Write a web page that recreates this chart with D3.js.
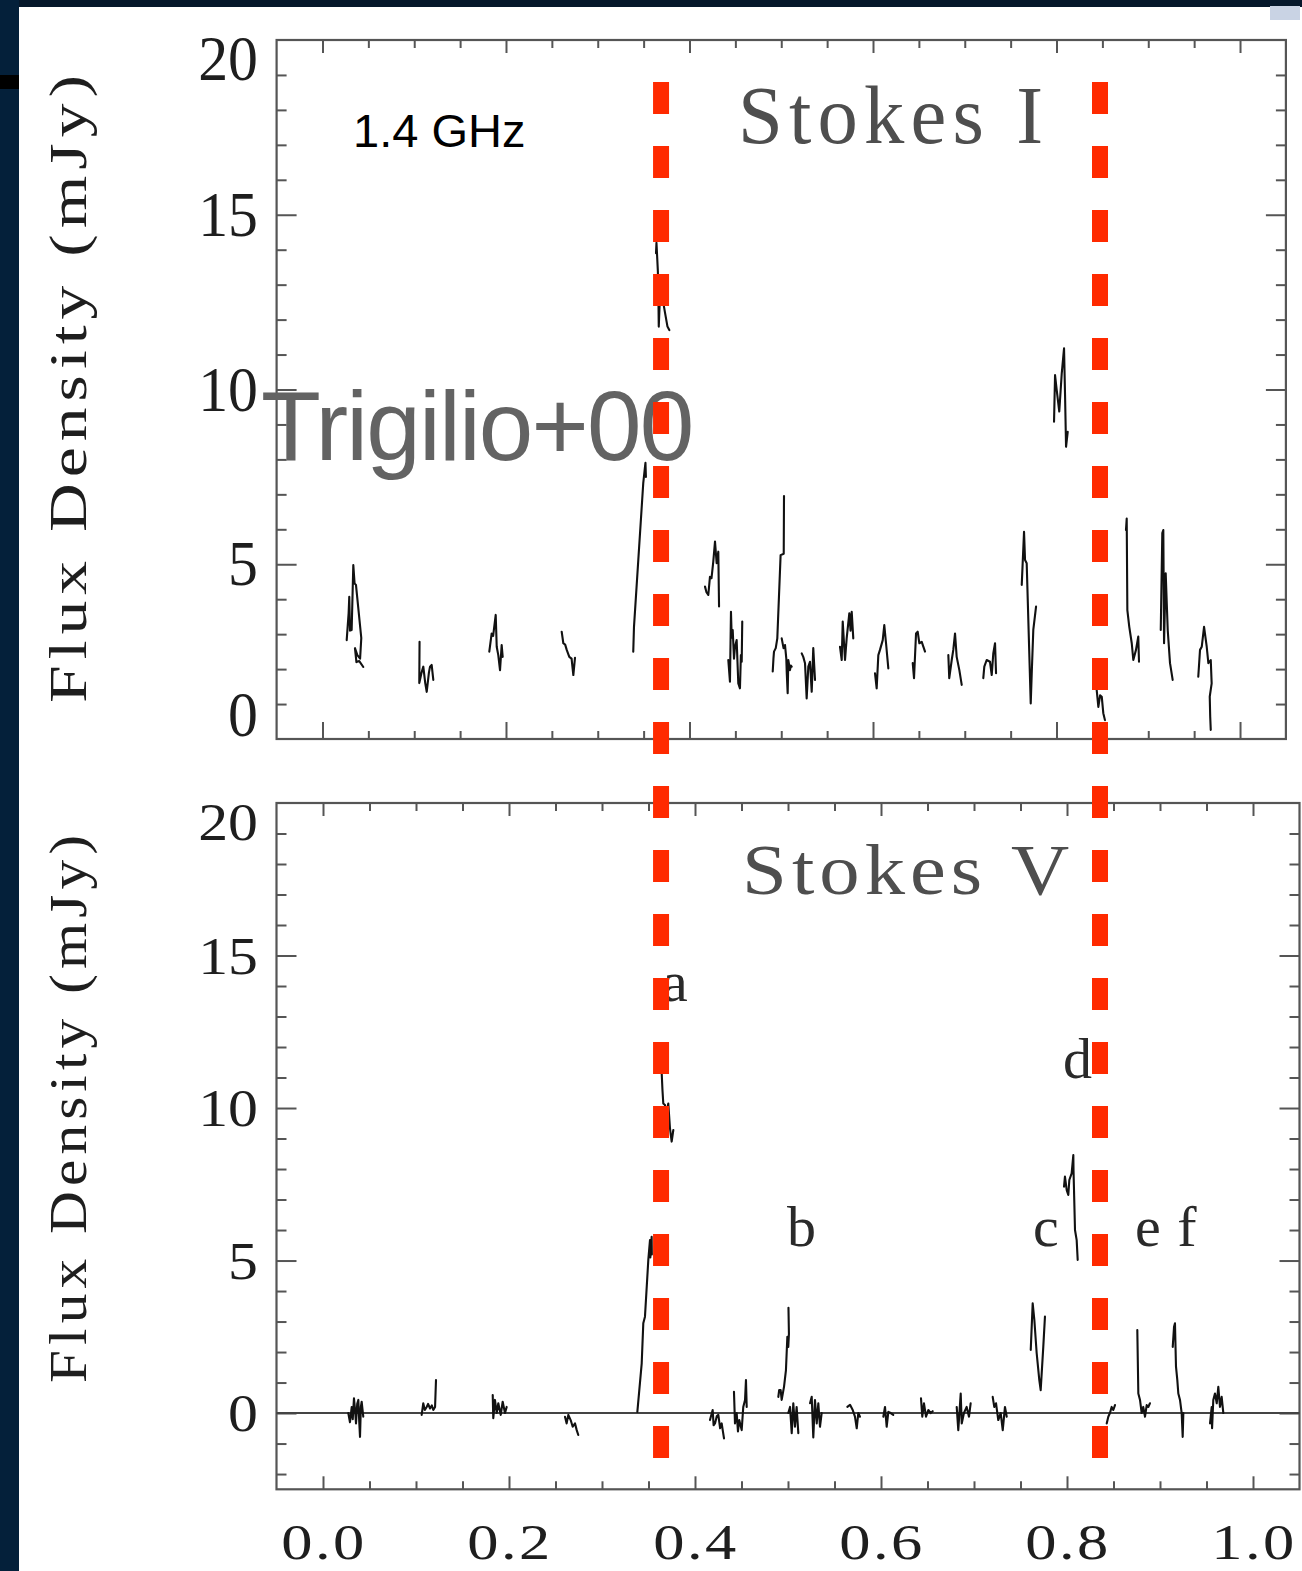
<!DOCTYPE html>
<html>
<head>
<meta charset="utf-8">
<script src="https://cdn.jsdelivr.net/npm/d3@7"></script>
<style>
  html, body { margin: 0; padding: 0; background: #fff; overflow: hidden; }
  svg { display: block; }
</style>
</head>
<body>
<svg id="chart" width="1302" height="1571"></svg>
<script>
// ---------------- DATA ----------------
// Rotational phase (x) and flux density in mJy (y); each inner array is one observing chunk.
const stokesI = [
  [[0.0264,2.83],[0.0285,3.6],[0.0292,4.07],[0.0300,3.1],[0.0318,3.12],[0.0336,4.98],[0.0350,4.45],[0.0365,4.41],[0.0423,2.89],[0.0410,2.3],[0.0380,2.4],[0.0354,2.6],[0.0370,2.2],[0.0401,2.23],[0.0445,2.06]],
  [[0.1058,2.78],[0.1055,1.6],[0.1080,1.9],[0.1099,2.07],[0.1120,1.6],[0.1136,1.35],[0.1160,1.9],[0.1172,2.07],[0.1190,2.12],[0.1208,1.69]],
  [[0.1818,2.5],[0.1844,3.02],[0.1860,2.95],[0.1888,3.55],[0.1899,2.64],[0.1916,2.4],[0.1935,1.97],[0.1953,2.69],[0.1964,2.35]],
  [[0.2607,3.07],[0.2625,2.74],[0.2645,2.7],[0.2662,2.55],[0.2690,2.35],[0.2715,2.3],[0.2727,2.0],[0.2734,1.83],[0.2752,2.32]],
  [[0.3387,2.5],[0.3395,3.21],[0.3442,5.12],[0.3496,7.32],[0.3515,7.79],[0.3520,7.9],[0.3525,7.5]],
  [[0.3635,13.9],[0.3640,14.2],[0.3655,13.4],[0.3660,12.9],[0.3665,11.8],[0.3680,12.8],[0.3700,13.2],[0.3720,12.4],[0.3733,12.2],[0.3760,11.8],[0.3780,11.7]],
  [[0.4169,4.36],[0.4185,4.2],[0.4205,4.12],[0.4223,4.64],[0.4240,4.6],[0.4259,5.07],[0.4278,5.65],[0.4296,5.03],[0.4314,5.36],[0.4322,3.79]],
  [[0.4423,2.26],[0.4441,1.64],[0.4452,3.64],[0.4460,2.9],[0.4471,3.12],[0.4485,2.3],[0.4496,2.64],[0.4514,2.83],[0.4532,1.59],[0.4550,1.45],[0.4560,2.4],[0.4569,2.21],[0.4575,3.36]],
  [[0.4907,1.93],[0.4915,2.3],[0.4921,2.5],[0.4940,2.6],[0.4957,2.88],[0.4993,5.26],[0.5027,5.3],[0.5030,6.95]],
  [[0.5005,2.88],[0.5025,2.6],[0.5041,2.69],[0.5055,2.3],[0.5060,1.9],[0.5070,1.31],[0.5077,2.26],[0.5095,1.97],[0.5105,2.1],[0.5114,2.07]],
  [[0.5223,2.45],[0.5240,2.35],[0.5259,2.17],[0.5277,1.16],[0.5295,2.07],[0.5313,2.21],[0.5332,1.35],[0.5349,2.6],[0.5368,1.69]],
  [[0.5640,2.64],[0.5659,2.26],[0.5670,3.36],[0.5695,2.26],[0.5713,2.88],[0.5742,3.6],[0.5755,3.1],[0.5768,3.64],[0.5785,2.88]],
  [[0.6022,1.88],[0.6040,1.45],[0.6058,2.4],[0.6076,2.55],[0.6106,2.83],[0.6123,3.26],[0.6142,2.74],[0.6167,2.02]],
  [[0.6433,2.17],[0.6447,1.74],[0.6469,3.02],[0.6487,3.07],[0.6505,2.74],[0.6531,2.78],[0.6567,2.5]],
  [[0.6821,2.4],[0.6831,1.74],[0.6858,2.26],[0.6875,2.55],[0.6894,3.02],[0.6912,2.35],[0.6941,1.97],[0.6967,1.55]],
  [[0.7202,1.74],[0.7213,2.07],[0.7239,2.26],[0.7275,2.21],[0.7294,1.83],[0.7311,2.45],[0.7330,2.74],[0.7341,1.88]],
  [[0.7621,4.41],[0.7646,5.93],[0.7657,5.12],[0.7675,5.03],[0.7719,1.02],[0.7730,1.88],[0.7747,3.12],[0.7777,3.79]],
  [[0.7973,9.08],[0.7984,10.41],[0.8002,9.99],[0.8030,9.37],[0.8057,10.46],[0.8082,11.18],[0.8093,9.84],[0.8104,8.36],[0.8122,8.79]],
  [[0.8425,2.0],[0.8438,1.4],[0.8456,0.92],[0.8475,1.25],[0.8493,1.21],[0.8510,0.74],[0.8528,0.54]],
  [[0.8757,5.98],[0.8765,6.31],[0.8772,3.69],[0.8793,3.21],[0.8820,2.74],[0.8837,2.26],[0.8866,2.55],[0.8891,2.93],[0.8899,2.21]],
  [[0.9136,3.12],[0.9153,5.89],[0.9164,5.98],[0.9172,2.74],[0.9190,4.74],[0.9212,3.12],[0.9237,2.17],[0.9266,1.69]],
  [[0.9545,1.78],[0.9564,2.55],[0.9583,2.64],[0.9608,3.21],[0.9637,2.64],[0.9655,2.17],[0.9681,2.26],[0.9691,1.59],[0.9670,1.21],[0.9675,0.64],[0.9681,0.26]]
];

const stokesV = [
  [[0.0272,0.0],[0.0290,-0.3],[0.0309,0.2],[0.0320,-0.2],[0.0333,0.48],[0.0345,0.1],[0.0355,-0.34],[0.0368,0.3],[0.0380,0.43],[0.0390,-0.3],[0.0398,-0.78],[0.0407,0.2],[0.0416,0.37],[0.0433,-0.12]],
  [[0.1061,-0.06],[0.1078,0.32],[0.1095,0.1],[0.1115,0.2],[0.1130,0.3],[0.1151,0.15],[0.1170,0.25],[0.1186,0.1],[0.1205,0.2],[0.1215,1.08]],
  [[0.1825,0.59],[0.1831,-0.17],[0.1849,0.43],[0.1868,0.0],[0.1885,0.32],[0.1911,-0.06],[0.1932,0.37],[0.1957,0.0],[0.1975,0.2]],
  [[0.2602,-0.12],[0.2620,-0.34],[0.2638,-0.06],[0.2663,-0.23],[0.2685,-0.45],[0.2710,-0.34],[0.2728,-0.56],[0.2745,-0.72]],
  [[0.3380,0.04],[0.3427,1.63],[0.3444,2.94],[0.3462,3.16],[0.3498,5.02],[0.3516,5.67],[0.3520,5.1],[0.3534,5.78],[0.3536,5.2]],
  [[0.3630,11.5],[0.3642,11.14],[0.3650,10.6],[0.3659,10.15],[0.3677,10.1],[0.3690,9.8],[0.3713,10.15],[0.3731,9.33],[0.3749,8.9],[0.3767,9.28]],
  [[0.4161,-0.23],[0.4190,0.1],[0.4200,-0.4],[0.4215,-0.34],[0.4235,-0.1],[0.4251,-0.06],[0.4270,-0.5],[0.4287,-0.34],[0.4300,-0.6],[0.4312,-0.83]],
  [[0.4419,0.7],[0.4430,-0.34],[0.4448,0.0],[0.4462,-0.6],[0.4476,-0.23],[0.4502,-0.56],[0.4519,0.2],[0.4538,0.43],[0.4548,1.08],[0.4556,0.2]],
  [[0.4896,0.53],[0.4905,0.75],[0.4921,0.75],[0.4932,0.43],[0.4957,0.86],[0.4978,1.41],[0.4993,2.5],[0.5003,2.17],[0.5010,2.6],[0.5005,3.45]],
  [[0.5003,0.0],[0.5022,0.2],[0.5040,-0.66],[0.5057,0.32],[0.5075,-0.45],[0.5093,0.2],[0.5111,-0.66]],
  [[0.5237,0.32],[0.5255,0.53],[0.5272,-0.8],[0.5290,0.43],[0.5309,-0.34],[0.5326,0.32],[0.5344,-0.45],[0.5362,0.0]],
  [[0.5638,0.2],[0.5667,0.27],[0.5696,0.1],[0.5720,-0.12],[0.5739,-0.5],[0.5756,0.0],[0.5774,-0.12]],
  [[0.6025,-0.12],[0.6043,0.2],[0.6061,-0.45],[0.6079,0.04],[0.6104,0.0],[0.6132,-0.06]],
  [[0.6430,0.48],[0.6444,-0.12],[0.6462,0.32],[0.6484,-0.12],[0.6509,0.1],[0.6534,0.0],[0.6556,0.06]],
  [[0.6814,0.2],[0.6831,-0.56],[0.6857,0.64],[0.6868,-0.34],[0.6892,0.0],[0.6921,0.2],[0.6946,-0.12],[0.6964,0.32]],
  [[0.7201,0.53],[0.7218,0.2],[0.7237,0.32],[0.7261,-0.23],[0.7287,0.0],[0.7309,-0.56],[0.7333,0.2],[0.7352,-0.12]],
  [[0.7610,2.07],[0.7631,3.6],[0.7649,3.05],[0.7674,1.96],[0.7702,1.09],[0.7717,0.75],[0.7745,2.17],[0.7763,3.16]],
  [[0.7968,7.42],[0.7978,7.75],[0.7997,7.31],[0.8014,7.15],[0.8025,7.64],[0.8050,7.86],[0.8068,8.46],[0.8070,7.97],[0.8086,6.0],[0.8104,5.67],[0.8115,5.02]],
  [[0.8427,-0.34],[0.8444,-0.12],[0.8462,0.0],[0.8480,0.2],[0.8498,0.1],[0.8516,0.26]],
  [[0.8756,2.72],[0.8767,0.64],[0.8785,0.43],[0.8803,0.0],[0.8820,0.2],[0.8839,-0.12],[0.8857,0.26],[0.8874,0.2],[0.8892,0.32]],
  [[0.9137,2.17],[0.9151,2.83],[0.9161,2.94],[0.9172,1.52],[0.9186,1.09],[0.9197,0.64],[0.9215,0.43],[0.9233,0.0],[0.9244,-0.78],[0.9251,0.0]],
  [[0.9538,-0.34],[0.9556,0.2],[0.9560,-0.5],[0.9573,0.43],[0.9591,0.64],[0.9610,0.32],[0.9627,0.86],[0.9645,0.2],[0.9663,0.53],[0.9681,0.0]]
];

const xTickLabels = ["0.0", "0.2", "0.4", "0.6", "0.8", "1.0"];
const xTickValues = [0, 0.2, 0.4, 0.6, 0.8, 1.0];
const yTickValues = [0, 5, 10, 15, 20];
const yTickLabels = ["0", "5", "10", "15", "20"];
const phaseDomain = [-0.05, 1.05];
const fluxDomainI = [0, 20];
const fluxDomainV = [-2.5, 20];
const markerPhases = [0.369, 0.8474];          // red dashed lines
const markerSpan = { topFluxI: 18.8, bottomFluxV: -1.48 };
const panelTitles = ["Stokes I", "Stokes V"];
const yAxisTitle = "Flux Density (mJy)";
const annotationsV = [
  { text: "a", phase: 0.3645, flux: 13.5 },
  { text: "b", phase: 0.4989, flux: 5.48 },
  { text: "c", phase: 0.7634, flux: 5.48 },
  { text: "d", phase: 0.7957, flux: 11.0 },
  { text: "e f", phase: 0.8731, flux: 5.48 }
];
const freqLabel = "1.4 GHz";
const refLabel = "Trigilio+00";

// ---------------- DRAW ----------------
const svg = d3.select("#chart");
const W = 1302, H = 1571;
const SERIF = "'Liberation Serif', 'Times New Roman', serif";
const SANS = "'Liberation Sans', Arial, sans-serif";
const AX = "#555";

// page background (slide)
svg.append("rect").attr("width", W).attr("height", H).attr("fill", "#ffffff");
svg.append("rect").attr("x", 0).attr("y", 0).attr("width", W).attr("height", 7).attr("fill", "#06182b");
svg.append("rect").attr("x", 0).attr("y", 0).attr("width", 19).attr("height", H).attr("fill", "#04203a");
svg.append("rect").attr("x", 0).attr("y", 75).attr("width", 19).attr("height", 14).attr("fill", "#000");
svg.append("rect").attr("x", 1270).attr("y", 6).attr("width", 30).attr("height", 14).attr("fill", "#c9d3e4");

const xTop = d3.scaleLinear().domain(phaseDomain).range([276.6, 1285.9]);
const yTop = d3.scaleLinear().domain(fluxDomainI).range([739, 40]);
const xBot = d3.scaleLinear().domain(phaseDomain).range([276.5, 1299.5]);
const yBot = d3.scaleLinear().domain(fluxDomainV).range([1489.3, 803]);

function txt(g, str, x, y, o) {
  const t = g.append("text")
    .attr("transform", `translate(${x},${y}) rotate(${o.rot || 0}) scale(${o.sx || 1},${o.sy || 1})`)
    .attr("font-family", o.family || SERIF)
    .attr("font-size", o.size)
    .attr("text-anchor", o.anchor || "start")
    .attr("fill", o.fill || "#222")
    .text(str);
  if (o.ls) t.attr("letter-spacing", o.ls);
  if (o.len) t.attr("textLength", o.len).attr("lengthAdjust", "spacing");
  return t;
}

const xMinor = d3.range(1, 21).map(i => +(i * 0.05).toFixed(2)).filter(v => Math.abs(v * 5 - Math.round(v * 5)) > 1e-6);

function drawPanel(x, y, fluxDomain, opts) {
  const g = svg.append("g");
  const [x0, x1] = x.range();
  const [yb, yt] = y.range();
  const yMinor = d3.range(Math.ceil(fluxDomain[0]), fluxDomain[1]).filter(v => v % 5 !== 0 && v > fluxDomain[0]);
  const yMajor = yTickValues.filter(v => v > fluxDomain[0] && v < fluxDomain[1]);
  const xMajor = xTickValues.filter(v => v > phaseDomain[0] && v < phaseDomain[1]);

  function axis(gen, pos, values, size) {
    const a = g.append("g").attr("transform", pos)
      .call(gen.tickValues(values).tickSize(size).tickSizeOuter(0).tickFormat(""));
    a.select(".domain").remove();
    a.selectAll("line").attr("stroke", AX).attr("stroke-width", 2);
  }
  axis(d3.axisLeft(y), `translate(${x0},0)`, yMinor, -10);
  axis(d3.axisLeft(y), `translate(${x0},0)`, yMajor, -20);
  axis(d3.axisRight(y), `translate(${x1},0)`, yMinor, -10);
  axis(d3.axisRight(y), `translate(${x1},0)`, yMajor, -20);
  axis(d3.axisTop(x), `translate(0,${yt})`, xMinor, -8);
  axis(d3.axisTop(x), `translate(0,${yt})`, xMajor, opts.xMajorTop);
  axis(d3.axisBottom(x), `translate(0,${yb})`, xMinor, -8);
  axis(d3.axisBottom(x), `translate(0,${yb})`, xMajor, opts.xMajorBottom);

  g.append("rect").attr("x", x0).attr("y", yt).attr("width", x1 - x0).attr("height", yb - yt)
    .attr("fill", "none").attr("stroke", AX).attr("stroke-width", 2.2);

  yTickValues.forEach((v, i) => {
    if (v < fluxDomain[0] || v > fluxDomain[1]) return;
    let off = opts.labelBase;
    if (v === fluxDomain[1]) off = opts.topLabelOff;
    if (v === fluxDomain[0]) off = opts.bottomLabelOff;
    txt(g, yTickLabels[i], 258, y(v) + off, { size: 52, sx: 1.15, sy: opts.sy, anchor: "end", fill: "#1e1e1e" });
  });
  return g;
}

const gTop = drawPanel(xTop, yTop, fluxDomainI, { sy: 1.2, labelBase: 21, topLabelOff: 40, bottomLabelOff: -3, xMajorTop: -13, xMajorBottom: -17 });
const gBot = drawPanel(xBot, yBot, fluxDomainV, { sy: 1.0, labelBase: 18, topLabelOff: 37, bottomLabelOff: 18, xMajorTop: -13, xMajorBottom: -13 });

gBot.append("line").attr("x1", xBot(phaseDomain[0])).attr("x2", xBot(phaseDomain[1]))
  .attr("y1", yBot(0)).attr("y2", yBot(0)).attr("stroke", "#444").attr("stroke-width", 2);

xTickValues.forEach((v, i) => {
  txt(gBot, xTickLabels[i], xBot(v) + 1, 1559, { size: 50, sx: 1.25, anchor: "middle", ls: 2, fill: "#1e1e1e" });
});

// y-axis titles (glyphs stretched along the text direction, as in the reference)
txt(gTop, yAxisTitle, 86, 389, { size: 52, rot: -90, sx: 1.3, anchor: "middle", len: 628 / 1.3, fill: "#1e1e1e" });
txt(gBot, yAxisTitle, 86, 1109, { size: 52, rot: -90, sx: 1.14, anchor: "middle", len: 548 / 1.14, fill: "#1e1e1e" });

function drawSeries(g, segs, x, y) {
  const line = d3.line().x(d => x(d[0])).y(d => y(d[1]));
  g.append("g").selectAll("path").data(segs).join("path")
    .attr("d", line).attr("fill", "none").attr("stroke", "#111")
    .attr("stroke-width", 2.1).attr("stroke-linejoin", "round").attr("stroke-linecap", "round");
}
drawSeries(gTop, stokesI, xTop, yTop);
drawSeries(gBot, stokesV, xBot, yBot);

txt(gTop, panelTitles[0], 738, 143, { size: 72, sx: 1.12, sy: 1.15, ls: 5.5, fill: "#4e4e4e" });
txt(gBot, panelTitles[1], 742, 894, { size: 72, sx: 1.12, sy: 1.0, ls: 4.5, fill: "#4e4e4e" });

annotationsV.forEach(a => {
  txt(gBot, a.text, xBot(a.phase), yBot(a.flux), { size: 58, fill: "#2a2a2a", ls: a.text.length > 1 ? 1 : 0 });
});

txt(svg, freqLabel, 353, 147, { size: 47, family: SANS, fill: "#000" });
txt(svg, refLabel, 261, 460, { size: 98, family: SANS, fill: "#636363", ls: -1.8 });

svg.append("g").selectAll("line").data(markerPhases).join("line")
  .attr("x1", d => xTop(d)).attr("x2", d => xTop(d))
  .attr("y1", yTop(markerSpan.topFluxI)).attr("y2", yBot(markerSpan.bottomFluxV))
  .attr("stroke", "#ff2a00").attr("stroke-width", 16).attr("stroke-dasharray", "32,32");
</script>
</body>
</html>
